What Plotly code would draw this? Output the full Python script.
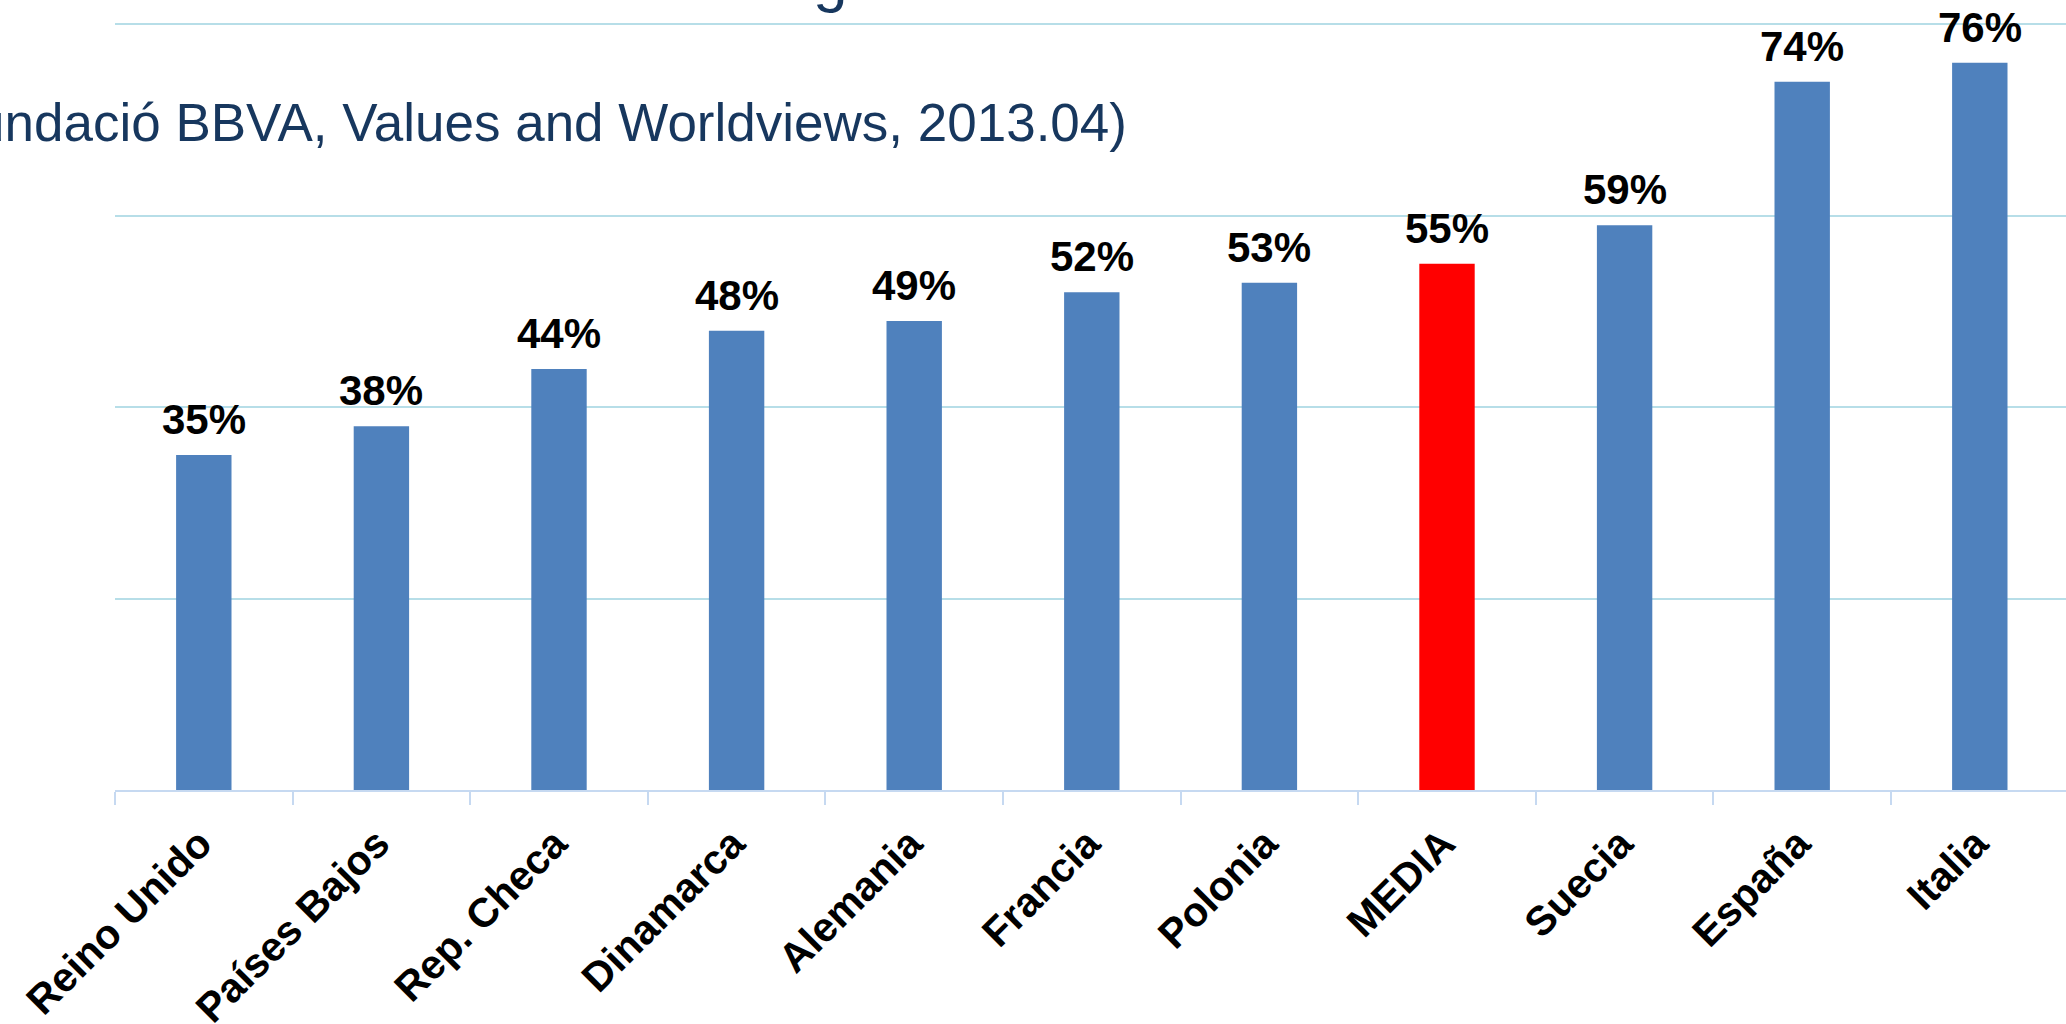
import plotly.graph_objects as go

categories = ["Reino Unido", "Países Bajos", "Rep. Checa", "Dinamarca", "Alemania",
              "Francia", "Polonia", "MEDIA", "Suecia", "España", "Italia"]
values = [0.35, 0.38, 0.44, 0.48, 0.49, 0.52, 0.53, 0.55, 0.59, 0.74, 0.76]
labels = ["35%", "38%", "44%", "48%", "49%", "52%", "53%", "55%", "59%", "74%", "76%"]
highlight = "MEDIA"

subtitle = "(Fundació BBVA, Values and Worldviews, 2013.04)"
title_fragment = "g"

BLUE = "#4F81BD"
RED = "#FF0000"
colors = [RED if c == highlight else BLUE for c in categories]

W, H = 2066, 1024
L, R, T, B = 115, 0, 22, 234
plot_w = W - L - R
plot_h = H - T - B
base_y = H - B
cat_px = 177.6


def paper_y(px_from_top):
    return (base_y - px_from_top) / plot_h


fig = go.Figure()
fig.add_trace(go.Bar(
    x=categories, y=values,
    marker=dict(color=colors, line=dict(width=0)),
    hoverinfo="skip",
))

for c, v, t in zip(categories, values, labels):
    fig.add_annotation(
        x=c, y=v, text=t, showarrow=False,
        xref="x", yref="y", xanchor="center", yanchor="bottom",
        yshift=10,
        font=dict(family="Liberation Sans, Arial", size=42, color="black", weight="bold"),
    )

fig.add_annotation(
    x=(1129 - L) / plot_w, y=paper_y(154), xref="paper", yref="paper",
    xanchor="right", yanchor="bottom", text=subtitle, showarrow=False,
    font=dict(family="Liberation Sans, Arial", size=53, color="#17375E"),
)
fig.add_annotation(
    x=(830 - L) / plot_w, y=paper_y(15), xref="paper", yref="paper",
    xanchor="center", yanchor="bottom", text=title_fragment, showarrow=False,
    font=dict(family="Liberation Sans, Arial", size=62, color="#17375E"),
)

fig.update_layout(
    width=W, height=H,
    margin=dict(l=L, r=R, t=T, b=B, pad=0),
    plot_bgcolor="white", paper_bgcolor="white",
    bargap=1 - 55.4 / cat_px,
    showlegend=False,
)
fig.update_xaxes(
    range=[-0.5, -0.5 + plot_w / cat_px],
    automargin=False,
    showline=True, linecolor="#C6D9F1", linewidth=2,
    ticks="outside", tickson="boundaries", ticklen=13, tickcolor="#C6D9F1", tickwidth=2,
    tickangle=-45, ticklabelstandoff=11, ticklabelshift=-4,
    tickfont=dict(family="Liberation Sans, Arial", size=41, color="black", weight="bold"),
    showgrid=False,
)
fig.update_yaxes(
    range=[0, 0.8025], tickvals=[0.2, 0.4, 0.6, 0.8], showticklabels=False,
    automargin=False,
    showgrid=True, gridcolor="#B7DEE8", gridwidth=2,
    zeroline=False, showline=False, ticks="",
)

fig.write_html(
    "out.html",
    config={"displayModeBar": False},
    post_script="document.body.style.margin='0';document.body.style.overflow='hidden';",
)
